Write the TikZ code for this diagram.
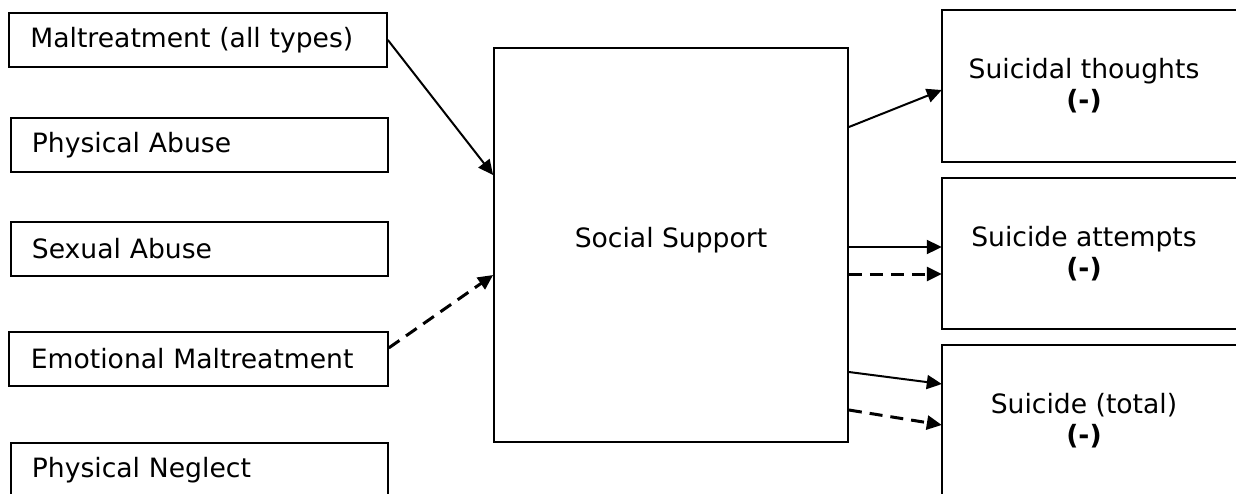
\documentclass[tikz,border=0pt]{standalone}
\usepackage{fontspec}
\setmainfont{DejaVu Sans}
\usetikzlibrary{arrows.meta}

\begin{document}
\begin{tikzpicture}[x=1pt,y=-1pt,
  every node/.style={font=\fontsize{26.6pt}{31pt}\selectfont},
  srcbox/.style={draw, line width=1.8pt, rectangle, anchor=north west,
    minimum height=54pt, inner xsep=20pt, text width=335pt, align=left},
  midbox/.style={draw, line width=1.8pt, rectangle, minimum width=354pt,
    minimum height=394pt, text depth=15pt},
  outbox/.style={rectangle, minimum width=284pt, align=center},
  edge/.style={line width=1.8pt},
  solidarrow/.style={line width=2pt, -{Triangle[length=15pt,width=14pt]}},
  dasharrow/.style={line width=3pt, dash pattern=on 13pt off 8pt,
    -{Triangle[length=15pt,width=14pt]}},
]
\useasboundingbox (0,0) rectangle (1236,493);
\clip (0,0) rectangle (1236,493);

% exposure boxes on the left
\node[srcbox, minimum width=378pt] (mal)  at (8,12)   {Maltreatment (all types)};
\node[srcbox, minimum width=377pt] (phys) at (10,117) {Physical Abuse};
\node[srcbox, minimum width=377pt] (sex)  at (10,221) {Sexual Abuse};
\node[srcbox, minimum width=379pt] (emo)  at (8,331)  {Emotional Maltreatment};
\node[srcbox, minimum width=377pt] (negl) at (10,442) {Physical Neglect};

% mediator
\node[midbox] (ss) at (671,245) {Social Support};

% outcome boxes on the right, open past the right margin
\node[outbox, minimum height=152pt] (th)  at (1084,86)
  {Suicidal thoughts\\\textbf{(-)}};
\node[outbox, minimum height=151pt] (att) at (1084,253.5)
  {Suicide attempts\\\textbf{(-)}};
\node[outbox, minimum height=152pt] (tot) at (1084,421)
  {Suicide (total)\\\textbf{(-)}};
\foreach \b in {th,att,tot}{
  \draw[edge] ([xshift=60pt]\b.north east) -- (\b.north west)
    -- (\b.south west) -- ([xshift=60pt]\b.south east);
}

% paths into the mediator
\draw[solidarrow] (mal.east) -- ([yshift=70pt]ss.west);
\draw[dasharrow]  ([yshift=11pt]emo.east) -- ([yshift=-30pt]ss.west);

% paths from the mediator to the outcomes
\draw[solidarrow] ([yshift=118pt]ss.east) -- ([yshift=-4pt]th.west);
\draw[solidarrow] ([yshift=-2pt]ss.east) -- ([yshift=6.5pt]att.west);
\draw[dasharrow]  ([yshift=-29pt]ss.east) -- ([yshift=-20.5pt]att.west);
\draw[solidarrow] ([yshift=-127pt]ss.east) -- ([yshift=37pt]tot.west);
\draw[dasharrow]  ([yshift=-165pt]ss.east) -- ([yshift=-4pt]tot.west);
\end{tikzpicture}
\end{document}
